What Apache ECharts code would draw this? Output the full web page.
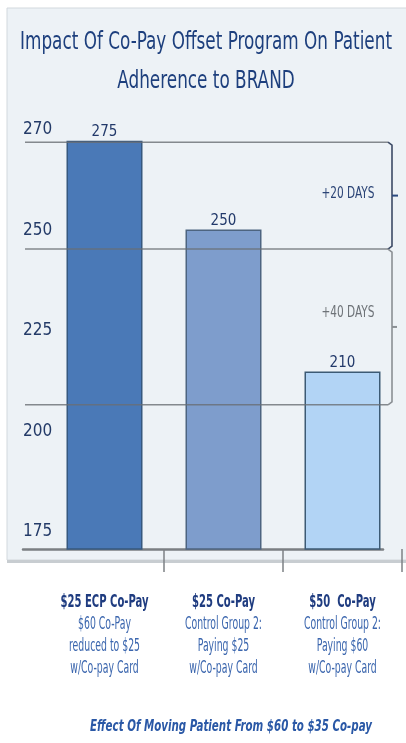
<!DOCTYPE html>
<html>
<head>
<meta charset="utf-8">
<script src="https://cdn.jsdelivr.net/npm/echarts@6/dist/echarts.min.js"></script>
<style>
  html, body { margin: 0; padding: 0; background: #ffffff; }
  #chart { width: 406px; height: 743px; }
</style>
</head>
<body>
<div id="chart"></div>
<script>
// Adherence (days on therapy) for each co-pay group
const categories = ['$25 ECP Co-Pay', '$25 Co-Pay', '$50  Co-Pay'];
const categoryNotes = [
  ['$60 Co-Pay', 'reduced to $25', 'w/Co-pay Card'],
  ['Control Group 2:', 'Paying $25', 'w/Co-pay Card'],
  ['Control Group 2:', 'Paying $60', 'w/Co-pay Card']
];
const adherenceDays = [275, 250, 210];
const tickLabels = ['175', '200', '225', '250', '270'];
// Reference levels framing the two day-gap brackets
const guideLevels = [274.6, 244.5, 200.6];
const bracketLabels = ['+20 DAYS', '+40 DAYS'];
const titleLines = ['Impact Of Co-Pay Offset Program On Patient', 'Adherence to BRAND'];
const footerText = 'Effect Of Moving Patient From $60 to $35 Co-pay';

const FONT = "'DejaVu Sans Condensed', 'DejaVu Sans', sans-serif";
const barFills = ['#4a79b7', '#7e9dcc', '#b2d4f5'];
const barEdges = ['#36587f', '#4d6480', '#3c5a74'];

// Horizontal squeeze so the condensed lettering keeps its narrow proportions
const measureCtx = document.createElement('canvas').getContext('2d');
function squeeze(text, font, width) {
  measureCtx.font = font;
  return Math.min(1, width / measureCtx.measureText(text).width);
}
function narrowText(id, text, x, y, font, fill, sx, z) {
  return { type: 'text', id: id, x: x, y: y, scaleX: sx, z: z || 5, silent: true,
    style: { text: text, font: font, fill: fill, textAlign: 'center', textVerticalAlign: 'middle' } };
}

const chart = echarts.init(document.getElementById('chart'), null, { renderer: 'canvas' });

const titleFont = '25px ' + FONT;
const titleScale = squeeze(titleLines[0], titleFont, 372);
const footerFont = 'italic bold 16px ' + FONT;
const footerScale = squeeze(footerText, footerFont, 282);

const baseGraphics = [
  { type: 'rect', id: 'panel', z: -20, silent: true,
    shape: { x: 7, y: 8, width: 402, height: 552 },
    style: { fill: '#edf2f6', stroke: '#d2d8dd', lineWidth: 1 } },
  { type: 'rect', id: 'panelShadow', z: -19, silent: true,
    shape: { x: 7, y: 560, width: 402, height: 3 },
    style: { fill: '#c8cdd1' } },
  narrowText('title0', titleLines[0], 206, 42, titleFont, '#1d3f7d', titleScale),
  narrowText('title1', titleLines[1], 206, 81, titleFont, '#1d3f7d', titleScale),
  narrowText('footer', footerText, 231, 727, footerFont, '#2a58a6', footerScale)
];

chart.setOption({
  animation: false,
  backgroundColor: '#ffffff',
  grid: [
    { left: 45, right: 4, top: 123, bottom: 194 },
    { left: 23, right: 23, top: 130, bottom: 211 }
  ],
  xAxis: [
    { type: 'category', gridIndex: 0, data: categories,
      axisLine: { show: false },
      axisTick: { show: true, length: 23, interval: function (i) { return i > 0; },
        lineStyle: { color: '#7d8185', width: 1.5 } },
      axisLabel: { show: false } },
    { type: 'category', gridIndex: 1, data: categories, offset: 17,
      axisLine: { show: true, lineStyle: { color: '#7b7f83', width: 2.5 } },
      axisTick: { show: false }, axisLabel: { show: false } }
  ],
  yAxis: [
    { type: 'value', gridIndex: 0, min: 160, max: 280, show: false },
    { type: 'category', gridIndex: 1, data: tickLabels, boundaryGap: false,
      axisLine: { show: false }, axisTick: { show: false }, splitLine: { show: false },
      axisLabel: { inside: true, margin: 0, fontFamily: FONT, fontSize: 17, color: '#243b68' } }
  ],
  series: [{
    type: 'bar', xAxisIndex: 0, yAxisIndex: 0, barWidth: 76, z: 2,
    data: adherenceDays.map(function (v, i) {
      return { value: v, itemStyle: { color: barFills[i], borderColor: barEdges[i], borderWidth: 1.5 } };
    }),
    label: { show: true, position: 'top', distance: 1, fontFamily: FONT, fontSize: 15, color: '#22396a' }
  }],
  graphic: baseGraphics
});

const overlay = [];

// Category captions under each bar
const headFont = 'bold 17px ' + FONT;
const noteFont = '17px ' + FONT;
const headScale = squeeze(categories[0], headFont, 88);
const noteScale = squeeze('Control Group 2:', noteFont, 77);
categories.forEach(function (c, i) {
  const cx = chart.convertToPixel({ xAxisIndex: 0 }, i);
  overlay.push(narrowText('cat' + i, c, cx, 603, headFont, '#1f3c80', headScale));
  categoryNotes[i].forEach(function (t, j) {
    overlay.push(narrowText('note' + i + '_' + j, t, cx, 625 + j * 21.7, noteFont, '#3b66ae', noteScale));
  });
});

// Guide lines and day-gap brackets, placed through the value scale
const ys = guideLevels.map(function (v) { return chart.convertToPixel({ yAxisIndex: 0 }, v); });
const xL = 25, xB = 392;
ys.forEach(function (y, i) {
  overlay.push({ type: 'line', id: 'guide' + i, z: 10, silent: true,
    shape: { x1: xL, y1: y, x2: xB - 4, y2: y },
    style: { stroke: 'rgba(105,110,116,0.8)', lineWidth: 1.5 } });
});
overlay.push({ type: 'polyline', id: 'bracketUpper', z: 10, silent: true,
  shape: { points: [[xB - 4, ys[0]], [xB, ys[0] + 3], [xB, ys[1] - 3], [xB - 4, ys[1]]] },
  style: { stroke: '#3c4a66', lineWidth: 1.6, fill: null } });
overlay.push({ type: 'polyline', id: 'bracketLower', z: 10, silent: true,
  shape: { points: [[xB - 4, ys[1]], [xB, ys[1] + 3], [xB, ys[2] - 3], [xB - 4, ys[2]]] },
  style: { stroke: '#8a8f94', lineWidth: 1.6, fill: null } });
const mids = [(ys[0] + ys[1]) / 2, (ys[1] + ys[2]) / 2];
overlay.push({ type: 'line', id: 'tickUpper', z: 10, silent: true,
  shape: { x1: xB, y1: mids[0], x2: xB + 6, y2: mids[0] },
  style: { stroke: '#2c4a80', lineWidth: 2 } });
overlay.push({ type: 'line', id: 'tickLower', z: 10, silent: true,
  shape: { x1: xB, y1: mids[1], x2: xB + 5, y2: mids[1] },
  style: { stroke: '#8a8f94', lineWidth: 2 } });
const gapFont = '15px ' + FONT;
const gapScale = squeeze(bracketLabels[0], gapFont, 53);
overlay.push(narrowText('gapUpper', bracketLabels[0], 348, mids[0] - 1, gapFont, '#2b4476', gapScale, 10));
overlay.push(narrowText('gapLower', bracketLabels[1], 348, mids[1] - 14, gapFont, '#6e7378', gapScale, 10));

chart.setOption({ graphic: baseGraphics.concat(overlay) });
</script>
</body>
</html>
